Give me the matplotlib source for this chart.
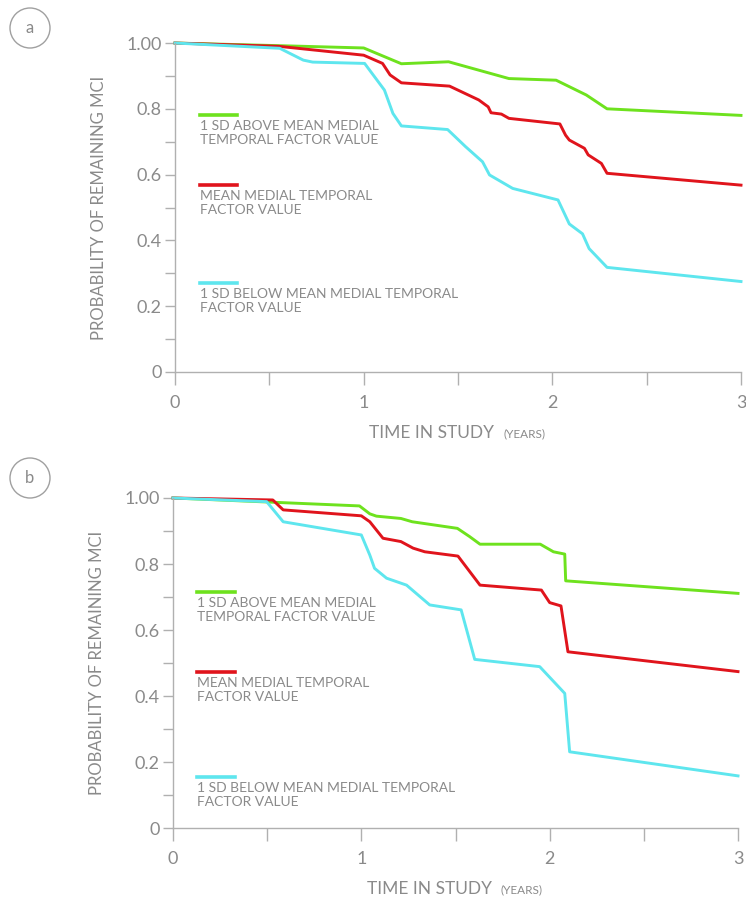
import matplotlib
matplotlib.use("Agg")
import matplotlib.pyplot as plt
from matplotlib.patches import Circle

plt.rcParams['font.family'] = ['Lato', 'DejaVu Sans']

# panel a: Kaplan-Meier style curves (years, probability)
a_green_x = [0, 0.55, 1.0, 1.2, 1.45, 1.77, 2.02, 2.18, 2.29, 3.0]
a_green_y = [1.0, 0.992, 0.985, 0.937, 0.943, 0.892, 0.887, 0.842, 0.80, 0.78]
a_red_x = [0, 0.55, 1.0, 1.10, 1.14, 1.2, 1.455, 1.61, 1.66, 1.675, 1.73, 1.77,
           2.04, 2.07, 2.09, 2.17, 2.19, 2.26, 2.29, 3.0]
a_red_y = [1.0, 0.99, 0.963, 0.938, 0.903, 0.879, 0.869, 0.827, 0.806, 0.788,
           0.784, 0.771, 0.754, 0.72, 0.705, 0.68, 0.66, 0.634, 0.604, 0.568]
a_cyan_x = [0, 0.555, 0.68, 0.73, 1.005, 1.11, 1.155, 1.2, 1.445, 1.54, 1.63,
            1.667, 1.79, 2.03, 2.09, 2.16, 2.195, 2.29, 3.0]
a_cyan_y = [1.0, 0.984, 0.948, 0.942, 0.938, 0.857, 0.786, 0.748, 0.737, 0.685,
            0.639, 0.599, 0.558, 0.523, 0.45, 0.42, 0.375, 0.318, 0.275]

# panel b
b_green_x = [0, 0.99, 1.045, 1.08, 1.21, 1.27, 1.51, 1.575, 1.63, 1.95, 2.02,
             2.08, 2.085, 3.0]
b_green_y = [1.0, 0.976, 0.952, 0.945, 0.938, 0.928, 0.908, 0.883, 0.86, 0.86,
             0.837, 0.83, 0.749, 0.711]
b_red_x = [0, 0.53, 0.585, 1.0, 1.045, 1.115, 1.21, 1.275, 1.337, 1.513, 1.63,
           1.956, 2.0, 2.06, 2.097, 3.0]
b_red_y = [1.0, 0.994, 0.964, 0.946, 0.928, 0.878, 0.868, 0.848, 0.837, 0.824,
           0.736, 0.721, 0.683, 0.673, 0.534, 0.474]
b_cyan_x = [0, 0.497, 0.585, 1.0, 1.045, 1.07, 1.134, 1.24, 1.363, 1.53, 1.602,
            1.947, 2.08, 2.106, 3.0]
b_cyan_y = [1.0, 0.989, 0.928, 0.888, 0.827, 0.787, 0.757, 0.736, 0.676, 0.661,
            0.511, 0.489, 0.408, 0.231, 0.158]

legend_labels = ["1 SD ABOVE MEAN MEDIAL\nTEMPORAL FACTOR VALUE",
                 "MEAN MEDIAL TEMPORAL\nFACTOR VALUE",
                 "1 SD BELOW MEAN MEDIAL TEMPORAL\nFACTOR VALUE"]
yticks = [0, 0.2, 0.4, 0.6, 0.8, 1.0]
ytick_labels = ["0", "0.2", "0.4", "0.6", "0.8", "1.00"]
xticks = [0, 1, 2, 3]
xtick_labels = ["0", "1", "2", "3"]

GREEN = "#6ee21e"
RED = "#e0141c"
CYAN = "#5ee6ee"
GREY = "#8a8a8a"
AXC = "#b0b0b0"

panels = [
    ("a", [0.2346, 0.5876, 0.7587, 0.3647],
     [(a_green_x, a_green_y), (a_red_x, a_red_y), (a_cyan_x, a_cyan_y)],
     [0.78, 0.567, 0.27], 28),
    ("b", [0.2319, 0.0820, 0.7574, 0.3659],
     [(b_green_x, b_green_y), (b_red_x, b_red_y), (b_cyan_x, b_cyan_y)],
     [0.715, 0.473, 0.155], 478),
]
colors = [GREEN, RED, CYAN]

W, H = 7.46, 9.02
fig = plt.figure(figsize=(W, H), dpi=100)

for tag, rect, series, leg_y, circ_py in panels:
    ax = fig.add_axes(rect)
    for (xs, ys), c in zip(series, colors):
        ax.plot(xs, ys, color=c, lw=2.1, solid_joinstyle='round', clip_on=False)
    ax.set_xlim(0, 3)
    ax.set_ylim(0, 1)
    for s in ["top", "right"]:
        ax.spines[s].set_visible(False)
    for s in ["left", "bottom"]:
        ax.spines[s].set_color(AXC)
        ax.spines[s].set_linewidth(1.0)
    ax.set_xticks(xticks)
    ax.set_xticklabels(xtick_labels)
    ax.set_xticks([0.5, 1.5, 2.5], minor=True)
    ax.set_yticks(yticks)
    ax.set_yticklabels(ytick_labels)
    ax.set_yticks([0.1, 0.3, 0.5, 0.7, 0.9], minor=True)
    ax.tick_params(which="both", direction="out", length=7.5, width=1.0,
                   color=AXC, labelcolor=GREY, labelsize=13)
    ax.tick_params(axis="x", which="both", length=9.5, pad=7)
    ax.tick_params(axis="y", pad=2)
    ax.set_ylabel("PROBABILITY OF REMAINING MCI", color=GREY, fontsize=12,
                  labelpad=14)

    # legend: short line above each label
    for c, lab, ly in zip(colors, legend_labels, leg_y):
        ax.plot([0.13, 0.33], [ly, ly], color=c, lw=2.6)
        ax.text(0.13, ly - 0.014, lab, color=GREY, fontsize=10, va="top",
                ha="left", linespacing=1.2)

    # x label with smaller "(YEARS)"
    ax.text(1.03, -0.185, "TIME IN STUDY", color=GREY, fontsize=12.5,
            transform=ax.get_xaxis_transform(), ha="left", va="center")
    ax.text(1.74, -0.187, "(YEARS)", color=GREY, fontsize=8.5,
            transform=ax.get_xaxis_transform(), ha="left", va="center")

    # circled panel letter (pixel position from top-left)
    cx, cy = 30 / 100, (H * 100 - circ_py) / 100
    fig.patches.append(Circle((cx, cy), 0.20, transform=fig.dpi_scale_trans,
                              fill=False, ec="#a0a0a0", lw=1.0))
    fig.text(cx, cy, tag, color=GREY, fontsize=12, ha="center", va="center",
             transform=fig.dpi_scale_trans)

fig.savefig("out.png", dpi=100, facecolor="white")
